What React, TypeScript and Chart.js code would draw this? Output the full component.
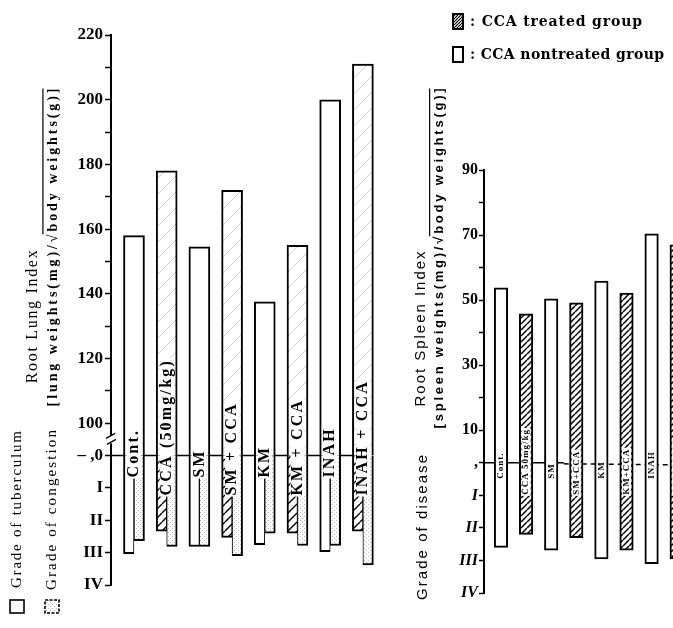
import React, { useEffect, useRef } from 'react';
import { Chart, registerables } from 'chart.js';

Chart.register(...registerables);

// ---------------- data ----------------
const groupLabels = ['Cont.', 'CCA (50mg/kg)', 'SM', 'SM + CCA', 'KM', 'KM + CCA', 'INAH', 'INAH + CCA'];
const spleenGroupLabels = ['Cont.', 'CCA 50mg/kg', 'SM', 'SM+CCA', 'KM', 'KM+CCA', 'INAH', 'INAH+CCA'];
const ccaTreated = [false, true, false, true, false, true, false, true];

const rootLungIndex = [158, 178, 154.5, 172, 137.5, 155, 200, 211];
const tuberculumGrade = [3.03, 2.34, 2.81, 2.53, 2.75, 2.4, 2.97, 2.34];
const congestionGrade = [2.63, 2.81, 2.81, 3.09, 2.4, 2.78, 2.78, 3.38];

const rootSpleenIndex = [53.8, 45.8, 50.4, 49.2, 55.9, 52.2, 70.4, 67];
const diseaseGrade = [2.6, 2.2, 2.68, 2.3, 2.95, 2.68, 3.1, 2.95];

const lungIndexTicks = [220, 210, 200, 190, 180, 170, 160, 150, 140, 130, 120, 110, 100];
const spleenIndexTicks = [90, 80, 70, 60, 50, 40, 30, 20, 10];
const gradeLabels = ['I', 'II', 'III', 'IV'];
const lungZeroLabel = '\u2013 ,0';
const spleenZeroLabel = ',';

// axis positions where "grade 0" sits on each (broken) axis
const LUNG_ZERO = 90;
const SPLEEN_ZERO = 0;
const GRADE_STEP = 10;

const SERIF = '"Liberation Serif", "DejaVu Serif", serif';
const SANS = '"Liberation Sans", "DejaVu Sans", sans-serif';
const SLAB = '"DejaVu Serif", "Liberation Serif", serif';

// ---------------- helpers ----------------
function hatchPattern(size: number, color: string, width: number): CanvasPattern {
  const c = document.createElement('canvas');
  c.width = size;
  c.height = size;
  const g = c.getContext('2d')!;
  g.fillStyle = '#fff';
  g.fillRect(0, 0, size, size);
  g.strokeStyle = color;
  g.lineWidth = width;
  g.beginPath();
  for (const o of [-size, 0, size]) {
    g.moveTo(o, size);
    g.lineTo(o + size, 0);
  }
  g.stroke();
  return g.createPattern(c, 'repeat')!;
}

function stipplePattern(size: number, color: string): CanvasPattern {
  const c = document.createElement('canvas');
  c.width = size;
  c.height = size;
  const g = c.getContext('2d')!;
  g.fillStyle = '#fff';
  g.fillRect(0, 0, size, size);
  g.fillStyle = color;
  g.fillRect(0, 0, 1, 1);
  g.fillRect(size / 2, size / 2, 1, 1);
  return g.createPattern(c, 'repeat')!;
}

type TextOpts = {
  rotate?: boolean;
  align?: CanvasTextAlign;
  target?: number;
  spacing?: number;
  overlineFrom?: string;
};

function drawText(ctx: CanvasRenderingContext2D, text: string, x: number, y: number, font: string, opts: TextOpts = {}) {
  ctx.save();
  ctx.font = font;
  ctx.fillStyle = '#000';
  ctx.textBaseline = 'middle';
  (ctx as any).letterSpacing = '0px';
  let sp = opts.spacing ?? 0;
  if (opts.target) {
    const w0 = ctx.measureText(text).width;
    sp = (opts.target - w0) / Math.max(1, text.length - 1);
  }
  (ctx as any).letterSpacing = sp + 'px';
  ctx.translate(x, y);
  if (opts.rotate) ctx.rotate(-Math.PI / 2);
  const align = opts.align ?? 'center';
  ctx.textAlign = align;
  ctx.fillText(text, 0, 0);
  if (opts.overlineFrom) {
    const W = ctx.measureText(text).width;
    const idx = text.indexOf(opts.overlineFrom);
    const pre = ctx.measureText(text.slice(0, idx)).width;
    const sq = ctx.measureText(opts.overlineFrom).width;
    const x0 = align === 'center' ? -W / 2 : align === 'left' ? 0 : -W;
    const size = parseFloat((/(\d+(\.\d+)?)px/.exec(font) || ['', '14'])[1]);
    ctx.strokeStyle = '#000';
    ctx.lineWidth = 1.2;
    ctx.beginPath();
    ctx.moveTo(x0 + pre + sq * 0.75, -size * 0.72);
    ctx.lineTo(x0 + W - sp, -size * 0.72);
    ctx.stroke();
  }
  ctx.restore();
}

// ---------------- component ----------------
export default function App() {
  const leftRef = useRef<HTMLCanvasElement>(null);
  const rightRef = useRef<HTMLCanvasElement>(null);

  useEffect(() => {
    const hatch = hatchPattern(9, '#000', 1.4);
    const lightHatch = hatchPattern(16, '#d0d0d0', 1);
    const denseHatch = hatchPattern(6, '#000', 1.5);
    const legendHatch = hatchPattern(3, '#000', 1.2);
    const stipple = stipplePattern(4, '#b5b5b5');

    const lungTickAll = [
      ...lungIndexTicks,
      LUNG_ZERO,
      ...gradeLabels.map((_, k) => LUNG_ZERO - GRADE_STEP * (k + 1)),
    ];
    const spleenTickAll = [
      ...spleenIndexTicks,
      SPLEEN_ZERO,
      ...gradeLabels.map((_, k) => SPLEEN_ZERO - GRADE_STEP * (k + 1)),
    ];

    const lungLabel = (v: number) => {
      if (v > LUNG_ZERO) return v % 20 === 0 ? String(v) : '';
      if (v === LUNG_ZERO) return lungZeroLabel;
      return gradeLabels[Math.round((LUNG_ZERO - v) / GRADE_STEP) - 1] ?? '';
    };
    const spleenLabel = (v: number) => {
      if (v > SPLEEN_ZERO) return v % 20 === 10 ? String(v) : '';
      if (v === SPLEEN_ZERO) return spleenZeroLabel;
      return gradeLabels[Math.round((SPLEEN_ZERO - v) / GRADE_STEP) - 1] ?? '';
    };

    // ---------- left decorations ----------
    const leftDecor = {
      id: 'leftDecor',
      beforeDatasetsDraw(chart: any) {
        const { ctx, chartArea, scales } = chart;
        const y0 = scales.y.getPixelForValue(LUNG_ZERO);
        ctx.save();
        ctx.strokeStyle = '#000';
        ctx.lineWidth = 1.5;
        ctx.beginPath();
        ctx.moveTo(chartArea.left, y0);
        ctx.lineTo(scales.x.getPixelForValue(groupLabels.length - 1), y0);
        ctx.stroke();
        ctx.restore();
      },
      afterDatasetsDraw(chart: any) {
        const { ctx, scales } = chart;
        const y0 = scales.y.getPixelForValue(LUNG_ZERO);
        const labelFont = `bold 16px ${SERIF}`;
        const labelSpacing = 2.2;
        groupLabels.forEach((lab, i) => {
          const px = scales.x.getPixelForValue(i);
          const start = y0 + (ccaTreated[i] ? 40 : 22);
          ctx.save();
          ctx.font = labelFont;
          (ctx as any).letterSpacing = labelSpacing + 'px';
          const w = ctx.measureText(lab).width;
          ctx.fillStyle = '#fff';
          ctx.fillRect(px - 7, start - w - 1, 14, w + 2);
          ctx.restore();
          drawText(ctx, lab, px, start, labelFont, { rotate: true, align: 'left', spacing: labelSpacing });
        });
      },
      afterDraw(chart: any) {
        const { ctx, chartArea, scales } = chart;
        // axis break between 100 and the grade scale
        const ax = chartArea.left;
        const yb = scales.y.getPixelForValue((100 + LUNG_ZERO) / 2);
        ctx.save();
        ctx.fillStyle = '#fff';
        ctx.fillRect(ax - 3, yb - 4, 6, 8);
        ctx.strokeStyle = '#000';
        ctx.lineWidth = 1.3;
        ctx.beginPath();
        ctx.moveTo(ax - 5, yb - 1);
        ctx.lineTo(ax + 4, yb - 6);
        ctx.moveTo(ax - 4, yb + 5);
        ctx.lineTo(ax + 5, yb);
        ctx.stroke();
        ctx.restore();

        // titles
        drawText(ctx, 'Root Lung Index', 33, 316, `16px ${SERIF}`, { rotate: true, target: 133 });
        drawText(ctx, '[lung weights(mg)/\u221Abody weights(g)]', 53, 246, `bold 14px ${SERIF}`, {
          rotate: true,
          target: 318,
          overlineFrom: '\u221A',
        });
        drawText(ctx, 'Grade of tuberculum', 17, 588, `15px ${SERIF}`, { rotate: true, align: 'left', target: 157 });
        drawText(ctx, 'Grade of congestion', 52, 590, `15px ${SERIF}`, { rotate: true, align: 'left', target: 160 });

        // legend boxes
        ctx.save();
        ctx.lineWidth = 1.6;
        ctx.strokeStyle = '#000';
        ctx.fillStyle = '#fff';
        ctx.fillRect(10, 600, 14, 13);
        ctx.strokeRect(10, 600, 14, 13);
        ctx.fillStyle = stipple;
        ctx.fillRect(45, 600, 14, 13);
        ctx.setLineDash([3, 1.5]);
        ctx.strokeRect(45, 600, 14, 13);
        ctx.restore();
      },
    };

    // ---------- right decorations ----------
    const rightDecor = {
      id: 'rightDecor',
      beforeDatasetsDraw(chart: any) {
        const { ctx, chartArea, scales } = chart;
        const y0 = scales.y.getPixelForValue(SPLEEN_ZERO);
        const xm = scales.x.getPixelForValue(2.5);
        ctx.save();
        ctx.strokeStyle = '#000';
        ctx.lineWidth = 1.5;
        ctx.beginPath();
        ctx.moveTo(chartArea.left, y0);
        ctx.lineTo(xm, y0);
        ctx.stroke();
        ctx.setLineDash([5, 4]);
        ctx.beginPath();
        ctx.moveTo(xm, y0 + 1);
        ctx.lineTo(chartArea.right, y0 + 2);
        ctx.stroke();
        ctx.restore();
      },
      afterDatasetsDraw(chart: any) {
        const { ctx, scales } = chart;
        const y0 = scales.y.getPixelForValue(SPLEEN_ZERO);
        spleenGroupLabels.forEach((lab, i) => {
          const px = scales.x.getPixelForValue(i);
          const start = y0 + (ccaTreated[i] ? 32 : 16);
          ctx.save();
          ctx.font = `bold 9px ${SERIF}`;
          (ctx as any).letterSpacing = '1px';
          const w = ctx.measureText(lab).width;
          ctx.fillStyle = '#fff';
          ctx.fillRect(px - 4.5, start - w - 1, 9, w + 2);
          ctx.restore();
          drawText(ctx, lab, px, start, `bold 9px ${SERIF}`, { rotate: true, align: 'left', spacing: 1 });
        });
      },
      afterDraw(chart: any) {
        const { ctx } = chart;
        // titles (canvas is offset 395px to the right)
        drawText(ctx, 'Root Spleen Index', 26, 328, `15px ${SANS}`, { rotate: true, target: 155 });
        drawText(ctx, '[spleen weights(mg)/\u221Abody weights(g)]', 44, 257, `bold 13px ${SANS}`, {
          rotate: true,
          target: 340,
          overlineFrom: '\u221A',
        });
        drawText(ctx, 'Grade of disease', 28, 600, `15px ${SANS}`, { rotate: true, align: 'left', target: 145 });

        // legend
        ctx.save();
        ctx.lineWidth = 2;
        ctx.strokeStyle = '#000';
        ctx.fillStyle = legendHatch;
        ctx.fillRect(58, 14, 10, 15);
        ctx.strokeRect(58, 14, 10, 15);
        ctx.fillStyle = '#fff';
        ctx.fillRect(58, 47, 10, 15);
        ctx.strokeRect(58, 47, 10, 15);
        ctx.restore();
        drawText(ctx, ': CCA treated group', 75, 22, `bold 14px ${SLAB}`, { align: 'left', target: 172 });
        drawText(ctx, ': CCA nontreated group', 75, 55, `bold 14px ${SLAB}`, { align: 'left', target: 194 });
      },
    };

    const commonTickGrid = {
      drawOnChartArea: false,
      drawTicks: true,
      color: '#000',
      tickColor: '#000',
      tickWidth: 1.5,
    };

    const left = new Chart(leftRef.current!, {
      type: 'bar',
      data: {
        datasets: [
          {
            label: 'Root Lung Index',
            data: groupLabels.map((_, i) => ({ x: i, y: [LUNG_ZERO, rootLungIndex[i]] })) as any,
            grouped: false,
            barThickness: 21,
            backgroundColor: ccaTreated.map((t) => (t ? lightHatch : '#fff')) as any,
            borderColor: '#000',
            borderWidth: 2,
            borderSkipped: 'start',
          },
          {
            label: 'Grade of tuberculum',
            data: groupLabels.map((_, i) => ({
              x: i,
              y: [LUNG_ZERO, LUNG_ZERO - GRADE_STEP * tuberculumGrade[i]],
            })) as any,
            barThickness: 10.5,
            backgroundColor: ccaTreated.map((t) => (t ? hatch : '#fff')) as any,
            borderColor: '#000',
            borderWidth: { top: 2, right: 1, bottom: 2, left: 2 } as any,
            borderSkipped: 'end',
          },
          {
            label: 'Grade of congestion',
            data: groupLabels.map((_, i) => ({
              x: i,
              y: [LUNG_ZERO, LUNG_ZERO - GRADE_STEP * congestionGrade[i]],
            })) as any,
            barThickness: 10.5,
            backgroundColor: stipple as any,
            borderColor: '#000',
            borderWidth: { top: 2, right: 2, bottom: 2, left: 1 } as any,
            borderSkipped: 'end',
          },
        ],
      },
      options: {
        responsive: false,
        animation: false,
        events: [],
        layout: { padding: { top: 35, bottom: 43, left: 0, right: 0 } },
        plugins: { legend: { display: false }, tooltip: { enabled: false } },
        scales: {
          x: { type: 'linear', min: -0.703, max: 8.135, display: false, offset: false },
          y: {
            type: 'linear',
            min: LUNG_ZERO - GRADE_STEP * gradeLabels.length,
            max: lungIndexTicks[0],
            afterBuildTicks: (s: any) => {
              s.ticks = lungTickAll.map((v) => ({ value: v }));
            },
            afterFit: (s: any) => {
              s.width = 111;
            },
            ticks: {
              autoSkip: false,
              padding: 2,
              color: '#000',
              font: { family: SERIF, size: 17, weight: 'bold' },
              callback: (v: any) => lungLabel(Number(v)),
            },
            grid: { ...commonTickGrid, tickLength: 6 },
            border: { display: true, color: '#000', width: 2 },
          },
        },
      } as any,
      plugins: [leftDecor],
    });

    const right = new Chart(rightRef.current!, {
      type: 'bar',
      data: {
        datasets: [
          {
            label: 'Root Spleen Index',
            data: groupLabels.map((_, i) => ({
              x: i,
              y: [SPLEEN_ZERO - GRADE_STEP * diseaseGrade[i], rootSpleenIndex[i]],
            })) as any,
            barThickness: 13.5,
            backgroundColor: ccaTreated.map((t) => (t ? denseHatch : '#fff')) as any,
            borderColor: '#000',
            borderWidth: 2,
            borderSkipped: false,
          },
        ],
      },
      options: {
        responsive: false,
        animation: false,
        events: [],
        layout: { padding: { top: 170, bottom: 35, left: 0, right: 0 } },
        plugins: { legend: { display: false }, tooltip: { enabled: false } },
        scales: {
          x: { type: 'linear', min: -0.677, max: 7.331, display: false, offset: false },
          y: {
            type: 'linear',
            min: SPLEEN_ZERO - GRADE_STEP * gradeLabels.length,
            max: spleenIndexTicks[0],
            afterBuildTicks: (s: any) => {
              s.ticks = spleenTickAll.map((v) => ({ value: v }));
            },
            afterFit: (s: any) => {
              s.width = 89;
            },
            ticks: {
              autoSkip: false,
              padding: 1,
              color: '#000',
              font: (c: any) => ({
                family: SERIF,
                size: 16,
                weight: 'bold',
                style: c.tick && c.tick.value < SPLEEN_ZERO ? 'italic' : 'normal',
              }),
              callback: (v: any) => spleenLabel(Number(v)),
            },
            grid: { ...commonTickGrid, tickLength: 5 },
            border: { display: true, color: '#000', width: 2 },
          },
        },
      } as any,
      plugins: [rightDecor],
    });

    return () => {
      left.destroy();
      right.destroy();
    };
  }, []);

  return (
    <div
      style={{
        position: 'fixed',
        left: 0,
        top: 0,
        width: 673,
        height: 628,
        overflow: 'hidden',
        background: '#fff',
      }}
    >
      <canvas ref={leftRef} width={400} height={628} style={{ position: 'absolute', left: 0, top: 0 }} />
      <canvas ref={rightRef} width={290} height={628} style={{ position: 'absolute', left: 395, top: 0 }} />
    </div>
  );
}
